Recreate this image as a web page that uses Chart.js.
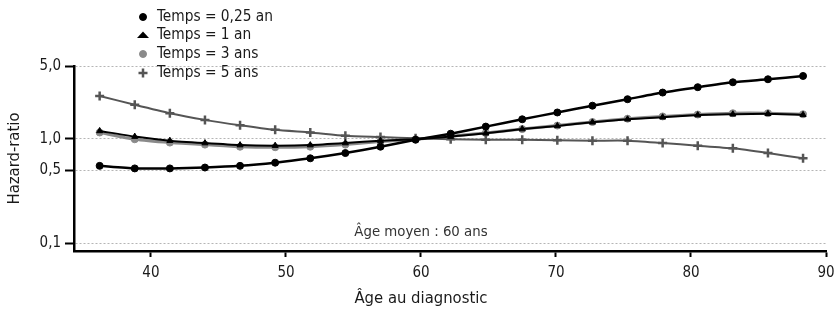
<!DOCTYPE html>
<html>
<head>
<meta charset="utf-8">
<script src="https://cdn.jsdelivr.net/npm/chart.js@4/dist/chart.umd.min.js"></script>
<style>
    html, body { margin: 0; padding: 0; background: #fff; }
    #wrap { width: 838px; height: 310px; }
</style>
</head>
<body>
<div id="wrap"><canvas id="hr-chart"></canvas></div>
<script>
// Data
const ages = [36.2, 38.8, 41.4, 44.0, 46.6, 49.2, 51.8, 54.4, 57.0, 59.6, 62.2,
    64.8, 67.5, 70.1, 72.7, 75.3, 77.9, 80.5, 83.1, 85.7, 88.3];
const hr025 = [0.55, 0.52, 0.52, 0.53, 0.55, 0.59, 0.65, 0.73, 0.84, 0.98, 1.12,
    1.31, 1.54, 1.79, 2.08, 2.40, 2.78, 3.13, 3.49, 3.73, 4.01];
const hr1 = [1.19, 1.05, 0.96, 0.91, 0.87, 0.86, 0.87, 0.91, 0.96, 0.99, 1.05,
    1.13, 1.24, 1.33, 1.44, 1.54, 1.61, 1.69, 1.72, 1.74, 1.70];
const hr3 = [1.15, 0.99, 0.92, 0.88, 0.84, 0.83, 0.84, 0.88, 0.94, 0.99, 1.06,
    1.14, 1.24, 1.34, 1.45, 1.56, 1.64, 1.71, 1.76, 1.76, 1.72];
const hr5 = [2.58, 2.12, 1.76, 1.52, 1.35, 1.22, 1.15, 1.07, 1.04, 1.01, 0.99,
    0.98, 0.98, 0.97, 0.96, 0.96, 0.91, 0.86, 0.81, 0.73, 0.65];

const seriesLabels = ["Temps = 0,25 an", "Temps = 1 an", "Temps = 3 ans", "Temps = 5 ans"];
const xTicks = [40, 50, 60, 70, 80, 90];
const yTicks = [0.1, 0.5, 1, 5];
const yTickLabels = ["0,1", "0,5", "1,0", "5,0"];
const meanAge = 60;
const meanAgeLabel = "Âge moyen : 60 ans";
const xTitle = "Âge au diagnostic";
const yTitle = "Hazard-ratio";

// Styles
const fontFamily = "'Liberation Sans Narrow', 'DejaVu Sans Condensed', 'Roboto Condensed', sans-serif";
const textColor = "#1a1a1a";
const styles = [
    { color: "#000000", point: "circle", radius: 3.5, width: 2.5 },
    { color: "#000000", point: "triangle", radius: 3.5, width: 2 },
    { color: "#8a8a8a", point: "circle", radius: 3.5, width: 3 },
    { color: "#555555", point: "cross", radius: 4.5, width: 2 },
];

const seriesData = [hr025, hr1, hr3, hr5];
// draw order: gray 3 ans underneath
const drawOrder = [1, 2, 4, 3];

function toPoints(values) {
    return values.map((v, i) => ({ x: ages[i], y: v }));
}

const datasets = seriesData.map((values, i) => ({
    label: seriesLabels[i],
    data: toPoints(values),
    borderColor: styles[i].color,
    backgroundColor: styles[i].color,
    borderWidth: styles[i].width,
    pointStyle: styles[i].point,
    pointRadius: styles[i].radius,
    pointBorderWidth: styles[i].point == "cross" ? 2.5 : 1,
    pointBackgroundColor: styles[i].color,
    pointBorderColor: styles[i].color,
    tension: 0.2,
    fill: false,
    order: drawOrder[i],
}));

// Legend, annotation and x title drawn on the canvas
const extrasPlugin = {
    id: "extras",
    afterDraw(chart) {
        const ctx = chart.ctx;
        const xs = chart.scales.x;
        const ys = chart.scales.y;
        ctx.save();

        // legend
        const rowY = [17, 35, 54, 73];
        ctx.font = "15.3px " + fontFamily;
        ctx.textBaseline = "middle";
        ctx.textAlign = "left";
        seriesLabels.forEach((label, i) => {
            const st = styles[i];
            ctx.fillStyle = st.color;
            ctx.strokeStyle = st.color;
            if (st.point == "triangle") {
                // flat wide triangle as in the original key
                ctx.beginPath();
                ctx.moveTo(137, rowY[i] + 3);
                ctx.lineTo(149, rowY[i] + 3);
                ctx.lineTo(143, rowY[i] - 3.5);
                ctx.closePath();
                ctx.fill();
            } else {
                ctx.lineWidth = st.point == "cross" ? 2.5 : 1;
                Chart.helpers.drawPoint(ctx, {
                    pointStyle: st.point,
                    radius: st.radius,
                    rotation: 0,
                    borderWidth: ctx.lineWidth,
                }, 143, rowY[i]);
            }
            ctx.fillStyle = textColor;
            ctx.fillText(label, 157, rowY[i]);
        });

        // mean age annotation
        ctx.font = "14.8px " + fontFamily;
        ctx.fillStyle = "#333";
        ctx.textAlign = "center";
        ctx.fillText(meanAgeLabel, xs.getPixelForValue(meanAge), ys.getPixelForValue(0.1) - 11);

        // x axis title
        ctx.font = "16.5px " + fontFamily;
        ctx.fillStyle = textColor;
        ctx.fillText(xTitle, xs.getPixelForValue(meanAge), 299);
        ctx.restore();
    },
};

Chart.defaults.font.family = fontFamily;
Chart.defaults.color = textColor;

const ctx = document.getElementById("hr-chart").getContext("2d");
const chart = new Chart(ctx, {
    type: "line",
    data: { datasets: datasets },
    options: {
        responsive: true,
        maintainAspectRatio: false,
        animation: false,
        layout: { padding: { left: 0, right: 12, top: 66, bottom: 0 } },
        plugins: {
            legend: { display: false },
            tooltip: { enabled: false },
        },
        scales: {
            x: {
                type: "linear",
                min: 34.3,
                max: 90,
                afterBuildTicks: (scale) => {
                    scale.ticks = xTicks.map((v) => ({ value: v }));
                },
                afterFit: (scale) => {
                    scale.height = 59;
                    // no extra room for the "90" label, the padding covers it
                    scale.paddingLeft = 0;
                    scale.paddingRight = 0;
                },
                ticks: {
                    font: { size: 15 },
                    padding: 7,
                    maxRotation: 0,
                    callback: (value) => String(value),
                },
                grid: {
                    drawOnChartArea: false,
                    drawTicks: true,
                    tickLength: 6,
                    tickColor: "#000",
                    tickWidth: 2,
                },
                border: { color: "#000", width: 2.5 },
            },
            y: {
                type: "logarithmic",
                min: 0.0838,
                max: 5,
                afterBuildTicks: (scale) => {
                    scale.ticks = yTicks.map((v) => ({ value: v }));
                },
                afterFit: (scale) => {
                    scale.width = 74;
                },
                ticks: {
                    font: { size: 15 },
                    padding: 4,
                    callback: (value) => {
                        const i = yTicks.indexOf(value);
                        return i >= 0 ? yTickLabels[i] : "";
                    },
                },
                title: {
                    display: true,
                    text: yTitle,
                    font: { size: 16.5 },
                    padding: { top: 5, bottom: 0 },
                },
                grid: {
                    color: "#b5b5b5",
                    lineWidth: 1,
                    drawTicks: true,
                    tickLength: 9,
                    tickColor: "#000",
                    tickWidth: 2,
                    tickBorderDash: [],
                },
                border: { color: "#000", width: 2.5, dash: [2, 2] },
            },
        },
    },
    plugins: [extrasPlugin],
});
</script>
</body>
</html>
